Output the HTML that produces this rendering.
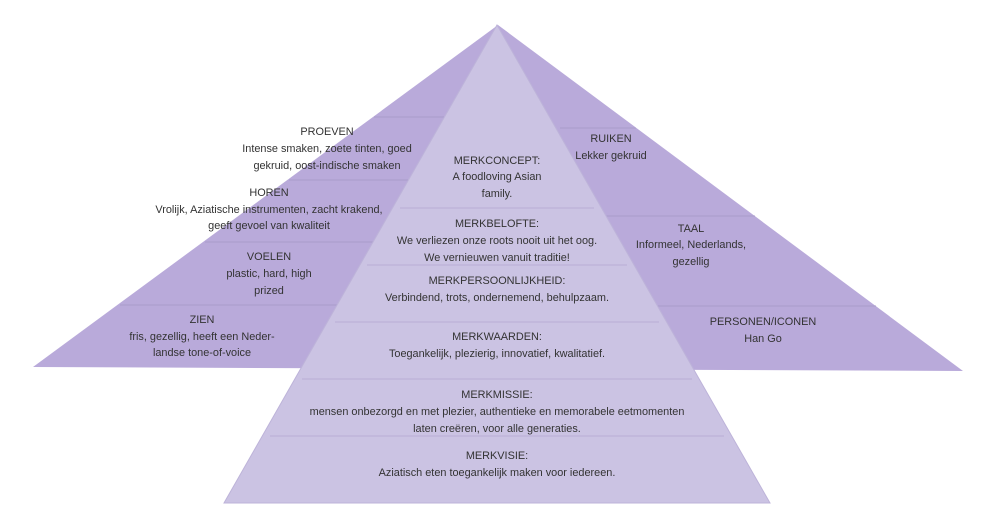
<!DOCTYPE html>
<html><head><meta charset="utf-8"><style>
html,body{margin:0;padding:0;background:#fff;}
svg{display:block;}
text{font-family:"Liberation Sans",sans-serif;font-size:10.9px;fill:#333;text-anchor:middle;}
</style></head><body>
<svg width="985" height="532" viewBox="0 0 985 532">
<polygon points="498,25 33,367 963,371" fill="#b9aada"/>
<g stroke="#a99cc9" stroke-width="1">
<line x1="374" y1="117" x2="446" y2="117"/>
<line x1="289" y1="180" x2="410" y2="180"/>
<line x1="205" y1="242" x2="375" y2="242"/>
<line x1="120" y1="305" x2="340" y2="305"/>
<line x1="560" y1="128" x2="636" y2="128"/>
<line x1="605" y1="216" x2="755" y2="216"/>
<line x1="655" y1="306" x2="876" y2="306"/>
</g>
<polygon points="497,25 224,503 770,503" fill="#cbc3e3" stroke="#bdb3d9" stroke-width="1"/>
<g stroke="#b8aed4" stroke-width="1">
<line x1="400" y1="208" x2="594" y2="208"/>
<line x1="367" y1="265" x2="627" y2="265"/>
<line x1="335" y1="322" x2="659" y2="322"/>
<line x1="302" y1="379" x2="692" y2="379"/>
<line x1="270" y1="436" x2="724" y2="436"/>
</g>
<text x="327" y="135">PROEVEN</text>
<text x="327" y="152">Intense smaken, zoete tinten, goed</text>
<text x="327" y="169">gekruid, oost-indische smaken</text>
<text x="269" y="196">HOREN</text>
<text x="269" y="213">Vrolijk, Aziatische instrumenten, zacht krakend,</text>
<text x="269" y="229">geeft gevoel van kwaliteit</text>
<text x="269" y="260">VOELEN</text>
<text x="269" y="277">plastic, hard, high</text>
<text x="269" y="294">prized</text>
<text x="202" y="323">ZIEN</text>
<text x="202" y="340">fris, gezellig, heeft een Neder-</text>
<text x="202" y="356">landse tone-of-voice</text>
<text x="611" y="142">RUIKEN</text>
<text x="611" y="159">Lekker gekruid</text>
<text x="691" y="232">TAAL</text>
<text x="691" y="248">Informeel, Nederlands,</text>
<text x="691" y="265">gezellig</text>
<text x="763" y="325">PERSONEN/ICONEN</text>
<text x="763" y="342">Han Go</text>
<text x="497" y="164">MERKCONCEPT:</text>
<text x="497" y="180">A foodloving Asian</text>
<text x="497" y="197">family.</text>
<text x="497" y="227">MERKBELOFTE:</text>
<text x="497" y="244">We verliezen onze roots nooit uit het oog.</text>
<text x="497" y="261">We vernieuwen vanuit traditie!</text>
<text x="497" y="284">MERKPERSOONLIJKHEID:</text>
<text x="497" y="301">Verbindend, trots, ondernemend, behulpzaam.</text>
<text x="497" y="340">MERKWAARDEN:</text>
<text x="497" y="357">Toegankelijk, plezierig, innovatief, kwalitatief.</text>
<text x="497" y="398">MERKMISSIE:</text>
<text x="497" y="415">mensen onbezorgd en met plezier, authentieke en memorabele eetmomenten</text>
<text x="497" y="432">laten creëren, voor alle generaties.</text>
<text x="497" y="459">MERKVISIE:</text>
<text x="497" y="476">Aziatisch eten toegankelijk maken voor iedereen.</text>
</svg>
</body></html>
